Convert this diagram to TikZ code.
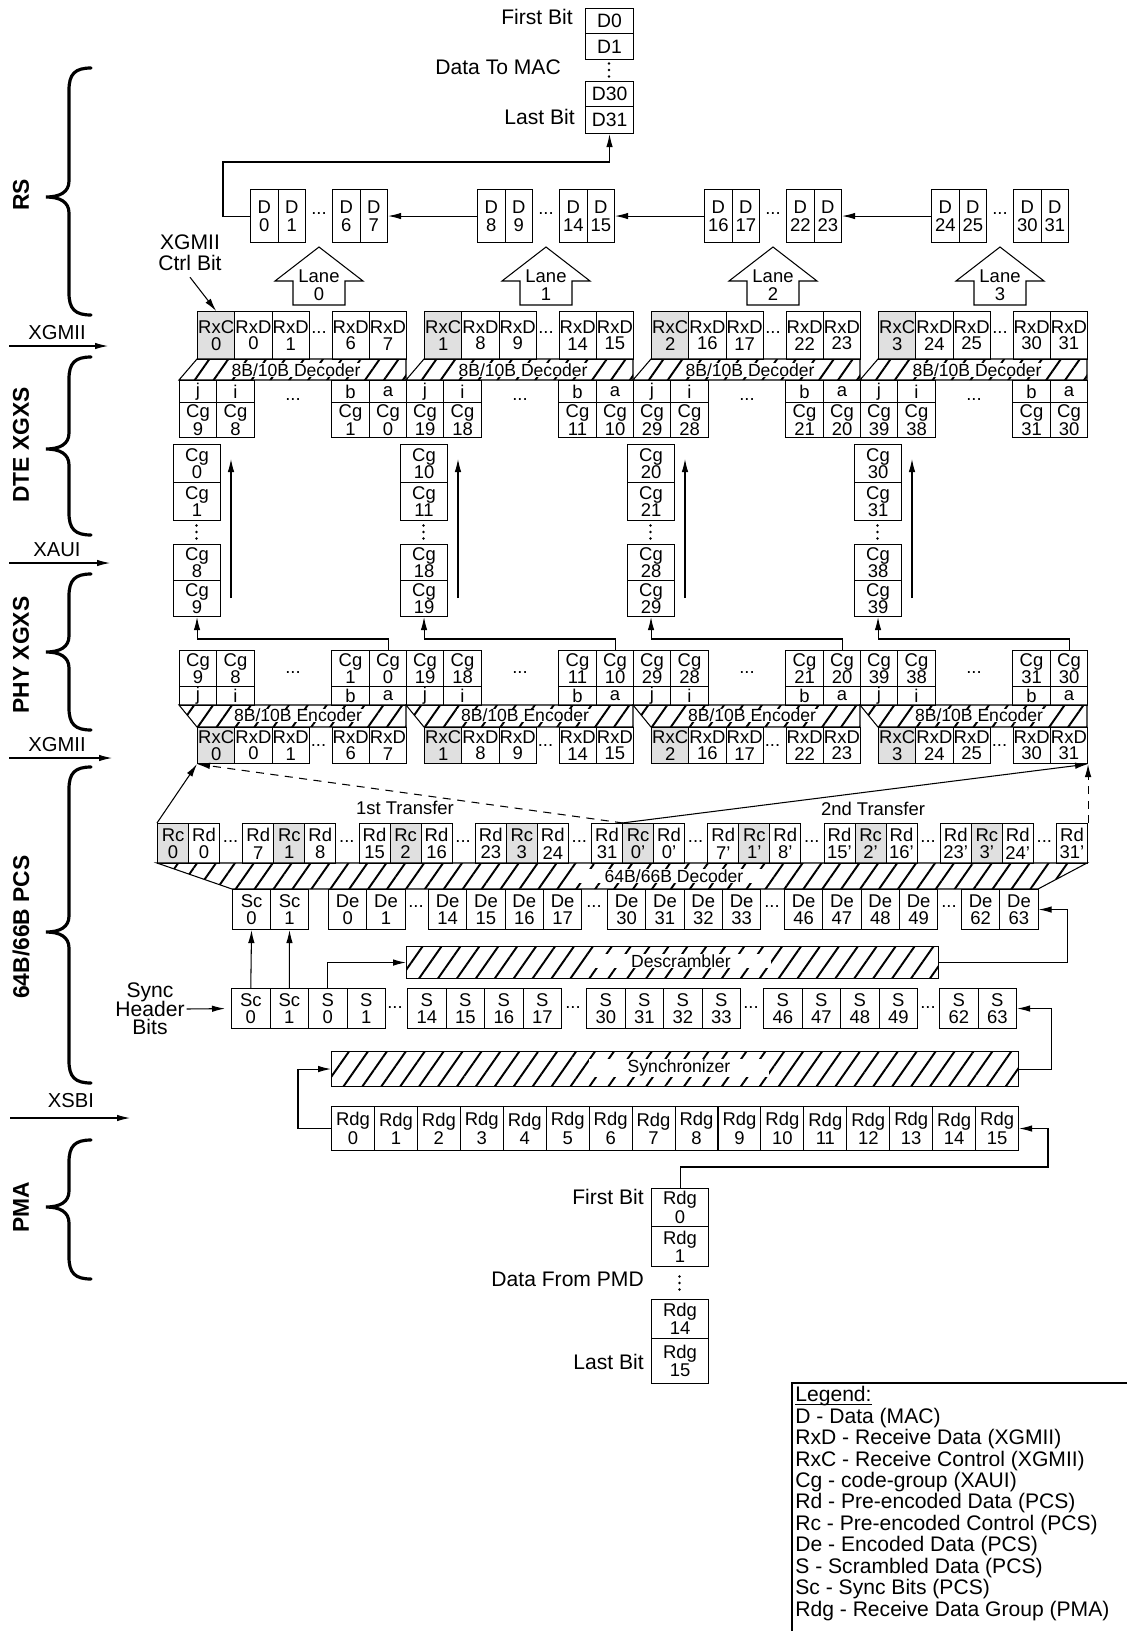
\documentclass[tikz,border=0pt]{standalone}
\usepackage{fontspec}
\setmainfont{Liberation Sans}
\setsansfont{Liberation Sans}
\usetikzlibrary{arrows.meta,patterns.meta}

\newcommand{\cellfont}{\fontsize{10.5}{10}\selectfont\lineskiplimit=-20pt}
\newcommand{\rxfont}{\fontsize{10.5}{9.3}\selectfont\lineskiplimit=-20pt}
\newcommand{\rdgfont}{\fontsize{10.5}{10.5}\selectfont\lineskiplimit=-20pt}
\newcommand{\hdrfont}{\fontsize{12}{10.5}\selectfont\lineskiplimit=-20pt}
\newcommand{\lblfont}{\fontsize{12}{12}\selectfont}
\newcommand{\layerbrace}[3]{%
  \draw[brc] (91,#1) .. controls (75,#1) and (69,{#1+6}) .. (69,{#1+22})
    -- (69,{#2-16}) .. controls (69,{#2-5}) and (60,#2) .. (46,#2)
    .. controls (60,#2) and (69,{#2+5}) .. (69,{#2+16})
    -- (69,{#3-22}) .. controls (69,{#3-6}) and (75,#3) .. (91,#3);}
% three stacked dots
\newcommand{\vdotcol}[2]{%
  \foreach \vy in {-6.5,0,6.5} \fill ({#1},{#2+\vy}) circle[radius=0.75pt];}

\begin{document}
\begin{tikzpicture}[
  x=0.2mm, y=-0.2mm,
  cell/.style={draw, line width=0.6pt, inner sep=0pt, align=center,
    anchor=north west, font=\cellfont},
  sz/.style 2 args={minimum width=#1*0.2mm, minimum height=#2*0.2mm},
  ctrl/.style={cell, fill=black!12},
  rx/.style={font=\rxfont},
  band/.style={draw, line width=0.6pt,
    pattern={Lines[angle=55,distance=3.1mm,line width=1.1pt]}},
  bandtxt/.style={fill=white, inner xsep=2pt, inner ysep=0.3pt,
    font=\fontsize{10}{10}\selectfont},
  arr/.style={-{Latex[length=2.6mm,width=1.3mm]}, line width=0.6pt},
  dasharr/.style={arr, dash pattern=on 1.6mm off 1.3mm},
  brc/.style={line width=1.8pt, line cap=round},
  layer/.style={font=\bfseries\fontsize{13}{13}\selectfont, rotate=90},
  lbl/.style={font=\lblfont},
  iface/.style={font=\fontsize{11.5}{11.5}\selectfont},
  dotsn/.style={font=\cellfont, inner sep=0pt}
]
\useasboundingbox (0,0) rectangle (1127,1631);
\clip (0,0) rectangle (1127,1631);

% data to MAC
\node[cell, sz={48}{25}, font=\fontsize{11}{11}\selectfont] (mac0) at (585,8) {D0};
\node[cell, sz={48}{26}, font=\fontsize{11}{11}\selectfont] (mac1) at (585,33) {D1};
\vdotcol{609}{70}
\node[cell, sz={48}{25}, font=\fontsize{11}{11}\selectfont] (mac30) at (585,81) {D30};
\node[cell, sz={48}{27}, font=\fontsize{11}{11}\selectfont] (mac31) at (585,106) {D31};
\node[lbl, anchor=east] (firstBitT) at (579,17) {First Bit};
\node[lbl, anchor=east] (macData) at (567,67) {Data To MAC};
\node[lbl, anchor=east] (lastBitT) at (581,117) {Last Bit};

% four lanes, DTE XGXS and PHY XGXS
\foreach \k in {0,...,3}{
  \pgfmathsetmacro\xo{179+227*\k}
  \pgfmathtruncatemacro\da{8*\k}
  \pgfmathtruncatemacro\db{8*\k+1}
  \pgfmathtruncatemacro\dc{8*\k+6}
  \pgfmathtruncatemacro\dd{8*\k+7}
  \pgfmathtruncatemacro\ca{10*\k}
  \pgfmathtruncatemacro\cb{10*\k+1}
  \pgfmathtruncatemacro\ci{10*\k+8}
  \pgfmathtruncatemacro\cj{10*\k+9}
  % RS data
  \node[cell, sz={27.5}{53}] (dA-\k) at ({\xo+71},189) {D\\\da};
  \node[cell, sz={27.5}{53}] (dB-\k) at ({\xo+98.5},189) {D\\\db};
  \node[dotsn] (dDots-\k) at ({\xo+140},214) {...};
  \node[cell, sz={27.5}{53}] (dC-\k) at ({\xo+153},189) {D\\\dc};
  \node[cell, sz={27.5}{53}] (dD-\k) at ({\xo+180.5},189) {D\\\dd};
  % lane arrow
  \draw[line width=0.6pt] ({\xo+140},247) -- ++(44,34) -- ++(-18,0) -- ++(0,24)
    -- ++(-52,0) -- ++(0,-24) -- ++(-18,0) -- cycle;
  \node[align=center, font=\fontsize{10.5}{10}\selectfont] (lane-\k) at ({\xo+140},285) {Lane\\\k};
  % DTE XGMII
  \node[ctrl, rx, sz={37.25}{48}] (rxcT-\k) at ({\xo+18},311) {RxC\\\k};
  \node[cell, rx, sz={37.25}{48}] (rxdT1-\k) at ({\xo+55.25},311) {RxD\\\da};
  \node[cell, rx, sz={37.25}{48}] (rxdT2-\k) at ({\xo+92.5},311) {RxD\\\db};
  \node[dotsn] (rxDotsT-\k) at ({\xo+140},333) {...};
  \node[cell, rx, sz={37.25}{48}] (rxdT3-\k) at ({\xo+152.5},311) {RxD\\\dc};
  \node[cell, rx, sz={37.25}{48}] (rxdT4-\k) at ({\xo+189.75},311) {RxD\\\dd};
  \draw[band] ({\xo+18},359) -- ({\xo+227},359) -- ({\xo+227},380) -- (\xo,380) -- cycle;
  \node[bandtxt] (dec-\k) at ({\xo+117},370) {8B/10B Decoder};
  \node[cell, sz={37}{22}] (jT-\k) at (\xo,380) {j};
  \node[cell, sz={38}{22}] (iT-\k) at ({\xo+37},380) {i};
  \node[cell, sz={38}{22}] (bT-\k) at ({\xo+152},380) {b};
  \node[cell, sz={37}{22}] (aT-\k) at ({\xo+190},380) {a};
  \node[cell, sz={37}{35}] (cgjT-\k) at (\xo,402) {Cg\\\cj};
  \node[cell, sz={38}{35}] (cgiT-\k) at ({\xo+37},402) {Cg\\\ci};
  \node[dotsn] (cgDotsT-\k) at ({\xo+114},400) {...};
  \node[cell, sz={38}{35}] (cgbT-\k) at ({\xo+152},402) {Cg\\\cb};
  \node[cell, sz={37}{35}] (cgaT-\k) at ({\xo+190},402) {Cg\\\ca};
  % XAUI
  \node[cell, sz={47}{38}] (sA-\k) at ({\xo-6},444) {Cg\\\ca};
  \node[cell, sz={47}{38}] (sB-\k) at ({\xo-6},482) {Cg\\\cb};
  \vdotcol{\xo+17.5}{532}
  \node[cell, sz={47}{36}] (sC-\k) at ({\xo-6},544) {Cg\\\ci};
  \node[cell, sz={47}{36}] (sD-\k) at ({\xo-6},580) {Cg\\\cj};
  \coordinate (upS-\k) at ({\xo+52},598);
  \coordinate (upE-\k) at ({\xo+52},459);
  \draw[arr] (upS-\k) -- (upE-\k);
  % PHY XGXS
  \node[cell, sz={37}{36}] (cgjP-\k) at (\xo,650) {Cg\\\cj};
  \node[cell, sz={38}{36}] (cgiP-\k) at ({\xo+37},650) {Cg\\\ci};
  \node[dotsn] (cgDotsP-\k) at ({\xo+114},673) {...};
  \node[cell, sz={38}{36}] (cgbP-\k) at ({\xo+152},650) {Cg\\\cb};
  \node[cell, sz={37}{36}] (cgaP-\k) at ({\xo+190},650) {Cg\\\ca};
  \node[cell, sz={37}{19}] (jP-\k) at (\xo,686) {j};
  \node[cell, sz={38}{19}] (iP-\k) at ({\xo+37},686) {i};
  \node[cell, sz={38}{19}] (bP-\k) at ({\xo+152},686) {b};
  \node[cell, sz={37}{19}] (aP-\k) at ({\xo+190},686) {a};
  \draw[band] (\xo,705) -- ({\xo+227},705) -- ({\xo+227},727) -- ({\xo+18},727) -- cycle;
  \node[bandtxt] (enc-\k) at ({\xo+119},715.5) {8B/10B Encoder};
  \node[ctrl, rx, sz={37.25}{36}] (rxcP-\k) at ({\xo+18},727) {RxC\\\k};
  \node[cell, rx, sz={37.25}{36}] (rxdP1-\k) at ({\xo+55.25},727) {RxD\\\da};
  \node[cell, rx, sz={37.25}{36}] (rxdP2-\k) at ({\xo+92.5},727) {RxD\\\db};
  \node[dotsn] (rxDotsP-\k) at ({\xo+139.5},746) {...};
  \node[cell, rx, sz={37.25}{36}] (rxdP3-\k) at ({\xo+152.5},727) {RxD\\\dc};
  \node[cell, rx, sz={37.25}{36}] (rxdP4-\k) at ({\xo+189.75},727) {RxD\\\dd};
  \draw[arr] (cgaP-\k.north) -- ++(0,-11) -| (sD-\k.south);
}
\foreach \k in {1,2,3}{
  \pgfmathtruncatemacro\j{\k-1}
  \draw[arr] (dA-\k.west) -- (dD-\j.east);
}
\coordinate (rsTurn) at (223,162);
\draw[arr] (dA-0.west) -| (rsTurn) -| (mac31.south);

\node[lbl, align=center] (ctrlBit) at (190,253) {XGMII\\Ctrl Bit};
\draw[arr] (ctrlBit.south) -- (rxcT-0.north);

% 64B/66B PCS
\foreach \t in {0,1}{
  \foreach \g in {0,...,3}{
    \pgfmathsetmacro\cx{157+465*\t+116.25*\g}
    \pgfmathtruncatemacro\ra{8*\g}
    \pgfmathtruncatemacro\rb{8*\g+7}
    \node[ctrl, sz={31}{40}] (rc-\t-\g) at (\cx,823) {Rc\\\g\ifnum\t=1\relax'\fi};
    \node[cell, sz={31}{40}] (rdA-\t-\g) at ({\cx+31},823) {Rd\\\ra\ifnum\t=1\relax'\fi};
    \node[dotsn] (rdDots-\t-\g) at ({\cx+73.6},842) {...};
    \node[cell, sz={31}{40}] (rdB-\t-\g) at ({\cx+85.25},823) {Rd\\\rb\ifnum\t=1\relax'\fi};
  }
}
\node[font=\fontsize{10.5}{10.5}\selectfont] (xferA) at (405,808) {1st Transfer};
\node[font=\fontsize{10.5}{10.5}\selectfont] (xferB) at (873,809) {2nd Transfer};
\draw[arr] (rc-0-0.north west) -- (rxcP-0.south west);
\draw[dasharr] (rdB-0-3.north east) -- (rxcP-0.south west);
\draw[arr] (rc-1-0.north west) -- (rxdP4-3.south east);
\draw[dasharr] (rdB-1-3.north east) -- (rxdP4-3.south east);

\draw[band] (157,863) -- (1087,863) -- (1038,889) -- (232,889) -- cycle;
\node[bandtxt, minimum width=38mm] (dec64) at (674,876) {64B/66B Decoder};

\node[cell, sz={38}{40}] (scD-0) at (232,889) {Sc\\0};
\node[cell, sz={38}{40}] (scD-1) at (270,889) {Sc\\1};
\foreach \gx/\gn/\gc in {328/0/2,428/14/4,607/30/4,784/46/4,961/62/2}{
  \foreach \i in {1,...,\gc}{
    \pgfmathtruncatemacro\n{\gn+\i-1}
    \node[cell, sz={38.3}{40}] (de-\n) at ({\gx+38.3*(\i-1)},889) {De\\\n};
  }
}
\foreach \dx [count=\c] in {416,594,772,949}
  \node[dotsn] (deDots-\c) at (\dx,907) {...};

\node[band, anchor=north west, inner sep=0pt, sz={532}{32}] (descr) at (406,946) {};
\node[bandtxt, minimum width=36mm] (descrTxt) at (681,961) {Descrambler};

\node[cell, sz={38.5}{40}] (scS-0) at (231,988) {Sc\\0};
\node[cell, sz={38.5}{40}] (scS-1) at (269.5,988) {Sc\\1};
\foreach \gx/\gn/\gc in {308/0/2,407/14/4,586/30/4,763/46/4,939/62/2}{
  \foreach \i in {1,...,\gc}{
    \pgfmathtruncatemacro\n{\gn+\i-1}
    \node[cell, sz={38.5}{40}] (s-\n) at ({\gx+38.5*(\i-1)},988) {S\\\n};
  }
}
\foreach \dx [count=\c] in {395,573,751,928}
  \node[dotsn] (sDots-\c) at (\dx,1007) {...};

\node[band, anchor=north west, inner sep=0pt, sz={687}{35}] (sync) at (331,1051) {};
\node[bandtxt, minimum width=36mm] (syncTxt) at (679,1068) {Synchronizer};

\foreach \i in {0,...,15}
  \node[cell, font=\rdgfont, sz={42.94}{44}] (rdg-\i) at ({331+42.94*\i},1106) {Rdg\\\i};

\node[font=\hdrfont, align=center, inner sep=1pt] (syncHdr) at (150,1009) {Sync\\Header\\Bits};
\draw[arr, shorten >=1.2mm] (syncHdr.east) -- (scS-0.west);
\draw[arr] (scS-0.north) -- (scD-0.south);
\draw[arr] (scS-1.north) -- (scD-1.south);
\draw[arr] (s-0.north) |- (descr.west);
\draw[arr] (descr.east) -- ++(128,0) |- (de-63.east);
\draw[arr] (sync.east) -- ++(32,0) |- (s-63.east);
\draw[arr] (rdg-0.west) -- ++(-33,0) |- (sync.west);

% PMA data
\node[cell, font=\rdgfont, sz={57}{38}] (rdgv-0) at (651,1188) {Rdg\\0};
\node[cell, font=\rdgfont, sz={57}{40}] (rdgv-1) at (651,1226) {Rdg\\1};
\vdotcol{679.5}{1283}
\node[cell, font=\rdgfont, sz={57}{39}] (rdgv-14) at (651,1299) {Rdg\\14};
\node[cell, font=\rdgfont, sz={57}{45}] (rdgv-15) at (651,1338) {Rdg\\15};
\node[lbl, anchor=east] (firstBitB) at (650,1197) {First Bit};
\node[lbl, anchor=east] (pmdData) at (650,1279) {Data From PMD};
\node[lbl, anchor=east] (lastBitB) at (650,1362) {Last Bit};
\coordinate (pmdTurn) at (1048,1167);
\draw[arr] (rdgv-0.north) |- (pmdTurn) |- (rdg-15.east);

% layers
\layerbrace{68}{197}{315}
\layerbrace{357}{449}{535}
\layerbrace{574}{652}{730}
\layerbrace{767}{932}{1083}
\layerbrace{1140}{1207}{1279}
\node[layer] (lyRS) at (21,195) {RS};
\node[layer] (lyDTE) at (21,445) {DTE XGXS};
\node[layer] (lyPHY) at (21,655) {PHY XGXS};
\node[layer] (lyPCS) at (21,927) {64B/66B PCS};
\node[layer] (lyPMA) at (21,1207) {PMA};

% interfaces
\node[iface] (ifA) at (57,333) {XGMII};
\coordinate (ifAs) at (9,346); \coordinate (ifAe) at (108,346);
\draw[arr] (ifAs) -- (ifAe);
\node[iface] (ifB) at (57,550) {XAUI};
\coordinate (ifBs) at (9,563); \coordinate (ifBe) at (110,563);
\draw[arr] (ifBs) -- (ifBe);
\node[iface] (ifC) at (57,745) {XGMII};
\coordinate (ifCs) at (9,758); \coordinate (ifCe) at (112,758);
\draw[arr] (ifCs) -- (ifCe);
\node[iface] (ifD) at (71,1101) {XSBI};
\coordinate (ifDs) at (10,1118); \coordinate (ifDe) at (130,1118);
\draw[arr] (ifDs) -- (ifDe);

% legend
\draw[line width=1.1pt] (792,1383) rectangle (1150,1650);
\node[anchor=base west, inner sep=0pt, font=\fontsize{12}{12}\selectfont] (legHead) at (795,1401) {Legend:};
\draw[line width=0.6pt] ([yshift=-0.7mm]legHead.base west) -- ([yshift=-0.7mm]legHead.base east);
\node[anchor=north west, align=left, inner sep=0pt, font=\fontsize{12}{12.2}\selectfont] (legend) at (795,1407.5)
  {D - Data (MAC)\\RxD - Receive Data (XGMII)\\RxC - Receive Control (XGMII)\\Cg - code-group (XAUI)\\Rd - Pre-encoded Data (PCS)\\Rc - Pre-encoded Control (PCS)\\De - Encoded Data (PCS)\\S - Scrambled Data (PCS)\\Sc - Sync Bits (PCS)\\Rdg - Receive Data Group (PMA)};
\end{tikzpicture}
\end{document}
